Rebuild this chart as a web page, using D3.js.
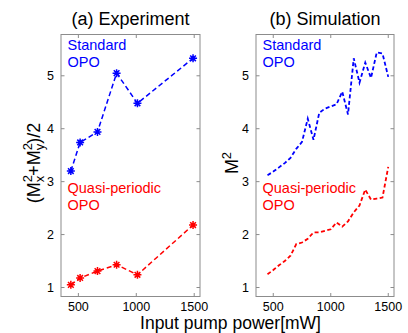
<!DOCTYPE html>
<html>
<head>
<meta charset="utf-8">
<script src="https://cdn.jsdelivr.net/npm/d3@7"></script>
<style>
  html, body { margin: 0; padding: 0; background: #fff; }
  svg { display: block; font-family: "Liberation Sans", Arial, sans-serif; }
</style>
</head>
<body>
<div id="chart"></div>
<script>
// 실험 데이터 (a)
const expPower = [435, 515, 665, 830, 1010, 1490];
const expStandard = [3.2, 3.74, 3.94, 5.05, 4.48, 5.33];
const expQuasi = [1.05, 1.18, 1.31, 1.43, 1.24, 2.18];

// 시뮬레이션 데이터 (b)
const simPower = [450, 500, 550, 600, 650, 700, 750, 800, 850, 900, 950, 1000,
                  1050, 1100, 1150, 1200, 1250, 1300, 1350, 1400, 1450, 1500];
const simStandard = [3.12, 3.19, 3.27, 3.35, 3.45, 3.62, 3.75, 4.19, 3.79, 4.30, 4.38, 4.42,
                     4.46, 4.70, 4.27, 5.33, 4.87, 5.25, 4.96, 5.44, 5.42, 4.98];
const simQuasi = [1.25, 1.33, 1.42, 1.50, 1.60, 1.82, 1.85, 1.92, 2.04, 2.04, 2.07, 2.10,
                  2.23, 2.15, 2.25, 2.42, 2.55, 2.85, 2.66, 2.68, 2.70, 3.28];

const xTicks = [500, 1000, 1500];
const yTicks = [1, 2, 3, 4, 5];
const seriesNames = ['Standard', 'OPO', 'Quasi-periodic', 'OPO'];

const W = 408, H = 333;
const BLUE = '#0000ff', RED = '#ff0000', BOX = '#8c8c8c';

const svg = d3.select('#chart').append('svg')
    .attr('width', W).attr('height', H);

const plotTop = 34.5, plotBottom = 296.5;
const y = d3.scaleLinear().domain([0.83, 5.78]).range([plotBottom, plotTop]);

// 패널 하나 그리기
function drawPanel(left, right, title, power, std, quasi, withMarkers) {
    const x = d3.scaleLinear().domain([350, 1550]).range([left, right]);
    const g = svg.append('g');

    // 박스
    g.append('rect')
        .attr('x', left).attr('y', plotTop)
        .attr('width', right - left).attr('height', plotBottom - plotTop)
        .attr('fill', 'none').attr('stroke', BOX).attr('stroke-width', 1);

    // 눈금 (안쪽, 양쪽)
    const tl = 3.5;
    xTicks.forEach(t => {
        g.append('line').attr('x1', x(t)).attr('x2', x(t)).attr('y1', plotBottom).attr('y2', plotBottom - tl)
            .attr('stroke', BOX);
        g.append('line').attr('x1', x(t)).attr('x2', x(t)).attr('y1', plotTop).attr('y2', plotTop + tl)
            .attr('stroke', BOX);
        g.append('text').attr('x', x(t)).attr('y', 310.5)
            .attr('text-anchor', 'middle').attr('font-size', 12.5).attr('fill', '#000')
            .text(t);
    });
    yTicks.forEach(t => {
        g.append('line').attr('x1', left).attr('x2', left + tl).attr('y1', y(t)).attr('y2', y(t))
            .attr('stroke', BOX);
        g.append('line').attr('x1', right).attr('x2', right - tl).attr('y1', y(t)).attr('y2', y(t))
            .attr('stroke', BOX);
        g.append('text').attr('x', left - 7).attr('y', y(t) + 4.4)
            .attr('text-anchor', 'end').attr('font-size', 12.5).attr('fill', '#000')
            .text(t);
    });

    // 제목
    g.append('text').attr('x', (left + right) / 2).attr('y', 24.5)
        .attr('text-anchor', 'middle').attr('font-size', 18).attr('fill', '#000')
        .text(title);

    const line = d3.line().x(d => x(d[0])).y(d => y(d[1]));
    [[std, BLUE], [quasi, RED]].forEach(([vals, col]) => {
        const pts = power.map((p, i) => [p, vals[i]]);
        g.append('path').attr('d', line(pts))
            .attr('fill', 'none').attr('stroke', col)
            .attr('stroke-width', withMarkers ? 1.5 : 1.8)
            .attr('stroke-dasharray', withMarkers ? '5,3' : '4,2.5');
        if (withMarkers) {
            const r = 4;
            pts.forEach(p => {
                const cx = x(p[0]), cy = y(p[1]);
                const d = [0, 45, 90, 135].map(a => {
                    const rad = a * Math.PI / 180;
                    const dx = r * Math.cos(rad), dy = r * Math.sin(rad);
                    return `M${cx - dx},${cy - dy}L${cx + dx},${cy + dy}`;
                }).join('');
                g.append('path').attr('d', d).attr('stroke', col).attr('stroke-width', 1.5);
            });
        }
    });

    // 범례 문구
    const lx = left + 6.5;
    [[seriesNames[0], 49.5, BLUE], [seriesNames[1], 66.5, BLUE],
     [seriesNames[2], 192.5, RED], [seriesNames[3], 209.5, RED]].forEach(([txt, ty, col]) => {
        g.append('text').attr('x', lx).attr('y', ty)
            .attr('font-size', 14.5).attr('fill', col).text(txt);
    });
    return g;
}

drawPanel(61, 200, '(a) Experiment', expPower, expStandard, expQuasi, true);
drawPanel(256, 394, '(b) Simulation', simPower, simStandard, simQuasi, false);

// y축 라벨 (a)
const ya = svg.append('text')
    .attr('transform', 'translate(39.5,163) rotate(-90)')
    .attr('text-anchor', 'middle').attr('font-size', 18).attr('fill', '#000');
ya.append('tspan').text('(M');
ya.append('tspan').attr('font-size', 13).attr('dy', -7.5).text('2');
ya.append('tspan').attr('font-size', 13).attr('dx', -7.2).attr('dy', 11.5).text('x');
ya.append('tspan').attr('dy', -4).text('+M');
ya.append('tspan').attr('font-size', 13).attr('dy', -7.5).text('2');
ya.append('tspan').attr('font-size', 13).attr('dx', -7.2).attr('dy', 11.5).text('y');
ya.append('tspan').attr('dy', -4).text(')/2');

// y축 라벨 (b)
const yb = svg.append('text')
    .attr('transform', 'translate(238,163) rotate(-90)')
    .attr('text-anchor', 'middle').attr('font-size', 18).attr('fill', '#000');
yb.append('tspan').text('M');
yb.append('tspan').attr('font-size', 13).attr('dy', -7.5).text('2');

// x축 라벨
svg.append('text').attr('x', 230.5).attr('y', 329)
    .attr('text-anchor', 'middle').attr('font-size', 17.5).attr('fill', '#000')
    .text('Input pump power[mW]');
</script>
</body>
</html>
